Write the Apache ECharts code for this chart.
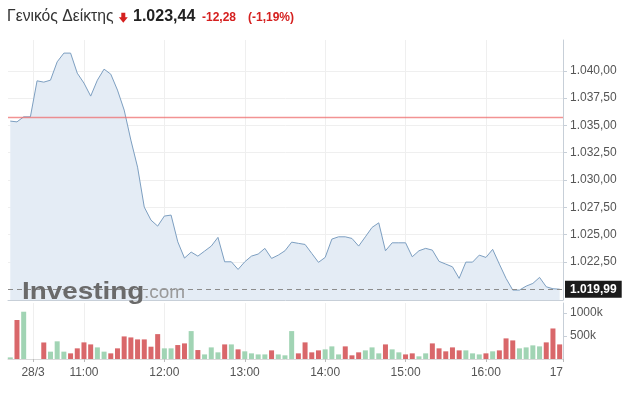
<!DOCTYPE html>
<html><head><meta charset="utf-8">
<script src="https://cdn.jsdelivr.net/npm/echarts@6/dist/echarts.min.js"></script>
<style>html,body{margin:0;padding:0;background:#fff}#c{width:624px;height:394px}</style>
</head><body><div id="c"></div>
<script>
const times = [
 '10:05','10:10','10:15','10:20','10:25','10:30','10:35','10:40','10:45','10:50','10:55',
 '11:00','11:05','11:10','11:15','11:20','11:25','11:30','11:35','11:40','11:45','11:50','11:55',
 '12:00','12:05','12:10','12:15','12:20','12:25','12:30','12:35','12:40','12:45','12:50','12:55',
 '13:00','13:05','13:10','13:15','13:20','13:25','13:30','13:35','13:40','13:45','13:50','13:55',
 '14:00','14:05','14:10','14:15','14:20','14:25','14:30','14:35','14:40','14:45','14:50','14:55',
 '15:00','15:05','15:10','15:15','15:20','15:25','15:30','15:35','15:40','15:45','15:50','15:55',
 '16:00','16:05','16:10','16:15','16:20','16:25','16:30','16:35','16:40','16:45','16:50','16:55'];
const prices = [
 1035.39,1035.32,1035.78,1035.78,1039.08,1038.96,1039.14,1040.82,1041.62,1041.62,1039.78,
 1038.87,1037.68,1039.14,1040.15,1039.69,1038.23,1036.40,1033.65,1031.17,1027.51,1026.32,1025.77,
 1026.69,1026.78,1024.33,1022.84,1023.39,1023.02,1023.48,1023.94,1024.74,1022.50,1022.50,1021.80,
 1022.50,1023.02,1023.21,1023.73,1022.81,1023.11,1023.51,1024.30,1024.19,1024.09,1023.27,1022.45,
 1022.90,1024.58,1024.79,1024.79,1024.64,1023.94,1024.79,1025.65,1026.07,1023.51,1024.24,1024.24,
 1024.24,1022.96,1023.51,1023.73,1023.57,1022.54,1022.29,1022.04,1020.98,1022.47,1022.47,1023.11,
 1022.90,1023.64,1022.29,1020.98,1019.91,1019.91,1020.27,1020.52,1021.07,1020.21,1020.03,1019.99];
const volumes = [
 35000,850000,1030000,0,0,360000,160000,385000,160000,123000,232000,
 362000,318000,253000,160000,123000,232000,492000,470000,427000,427000,268000,542000,
 232000,232000,304000,340000,608000,195000,100000,253000,145000,318000,318000,210000,
 167000,123000,100000,100000,188000,100000,80000,608000,123000,362000,145000,188000,
 210000,275000,100000,275000,80000,145000,188000,253000,123000,318000,210000,145000,
 100000,123000,58000,123000,340000,232000,167000,253000,188000,188000,123000,100000,
 123000,167000,188000,449000,405000,232000,253000,297000,275000,362000,665000,318000];
const directions = [
 'u','d','u','u','u','d','u','u','u','d','d',
 'd','d','u','u','d','d','d','d','d','d','d','d',
 'u','u','d','d','u','d','u','u','u','d','u','d',
 'u','u','u','u','d','u','u','u','d','d','d','d',
 'u','u','u','d','d','d','u','u','u','d','u','u',
 'd','d','u','u','d','d','d','d','d','u','u','u',
 'd','u','d','d','d','u','u','u','u','d','d','d'];
const xTickTimes = ['10:22','11:00','12:00','13:00','14:00','15:00','16:00'];
const xTickLabels = ['28/3','11:00','12:00','13:00','14:00','15:00','16:00'];
const xEndLabel = '17';
const priceTicks = [1022.5,1025,1027.5,1030,1032.5,1035,1037.5,1040];
const volumeTicks = [500000,1000000];
const prevClose = 1035.72;
const lastPrice = 1019.99;
const titleName = 'Γενικός Δείκτης';
const titleLast = '1.023,44';
const titleChange = '-12,28';
const titlePct = '(-1,19%)';

const toMin = s => { const p = s.split(':'); return (+p[0]) * 60 + (+p[1]); };
const gr = v => { const s = v.toFixed(2).split('.'); return s[0].replace(/\B(?=(\d{3})+(?!\d))/g, '.') + ',' + s[1]; };
const X_MIN = 603.3, X_MAX = 1017.5;
const xTickVals = xTickTimes.map(toMin).concat([X_MAX]);
const xLabelMap = {};
xTickTimes.forEach((t, i) => { xLabelMap[toMin(t)] = xTickLabels[i]; });
xLabelMap[X_MAX] = xEndLabel;

const RED = '#d9676a', GREEN = '#a1d4b4', AXC = '#c7cfd8', GRIDC = '#efefef', LBL = '#555';
const chart = echarts.init(document.getElementById('c'), null, {renderer: 'canvas'});
chart.setOption({
  animation: false,
  backgroundColor: '#fff',
  grid: [
    {left: 8, right: 61, top: 40, height: 260},
    {left: 8, right: 61, top: 303, height: 56}
  ],
  xAxis: [
    {type: 'value', gridIndex: 0, min: X_MIN, max: X_MAX,
     axisLine: {show: true, lineStyle: {color: AXC}},
     axisTick: {show: false, customValues: xTickVals},
     axisLabel: {show: false, customValues: xTickVals},
     splitLine: {show: true, lineStyle: {color: GRIDC}}},
    {type: 'value', gridIndex: 1, min: X_MIN, max: X_MAX,
     axisLine: {show: true, lineStyle: {color: '#d9d9d9'}},
     axisTick: {show: true, length: 3, customValues: xTickVals, lineStyle: {color: '#bbb'}},
     axisLabel: {customValues: xTickVals, color: LBL, fontSize: 12, fontFamily: 'Arial', margin: 8,
       alignMaxLabel: 'right', formatter: v => xLabelMap[v] !== undefined ? xLabelMap[v] : ''},
     splitLine: {show: true, lineStyle: {color: GRIDC}}}
  ],
  yAxis: [
    {type: 'value', gridIndex: 0, position: 'right', min: 1019.0, max: 1042.82,
     axisLine: {show: true, lineStyle: {color: AXC}},
     axisTick: {show: true, length: 4, customValues: priceTicks, lineStyle: {color: AXC}},
     axisLabel: {customValues: priceTicks, color: LBL, fontSize: 12, fontFamily: 'Arial', margin: 7,
       padding: [4, 0, 0, 0], formatter: v => gr(v)},
     splitLine: {show: true, lineStyle: {color: GRIDC}}},
    {type: 'value', gridIndex: 1, position: 'right', min: 0, max: 1220000,
     axisLine: {show: true, lineStyle: {color: AXC}},
     axisTick: {show: true, length: 4, customValues: volumeTicks, lineStyle: {color: AXC}},
     axisLabel: {customValues: volumeTicks, color: LBL, fontSize: 12, fontFamily: 'Arial', margin: 7,
       formatter: v => (v / 1000) + 'k'},
     splitLine: {show: false}}
  ],
  graphic: [
    {type: 'text', x: 7, y: 17, style: {text: titleName, font: '15.7px Arial', fill: '#333', verticalAlign: 'middle'}},
    {type: 'polygon', shape: {points: [[121.3,12.7],[125.3,12.7],[125.3,17.3],[127.8,17.3],[123.3,22.8],[118.8,17.3],[121.3,17.3]]}, style: {fill: '#d5201f'}},
    {type: 'text', x: 133, y: 17, style: {text: titleLast, font: 'bold 16px Arial', fill: '#222', verticalAlign: 'middle'}},
    {type: 'text', x: 202, y: 17.5, style: {text: titleChange, font: 'bold 12px Arial', fill: '#d5201f', verticalAlign: 'middle'}},
    {type: 'text', x: 248, y: 17.5, style: {text: titlePct, font: 'bold 12px Arial', fill: '#d5201f', verticalAlign: 'middle'}},
    {type: 'text', x: 22, y: 292, scaleX: 1.16, z: 100, style: {text: 'Investing', font: 'bold 24px Arial', fill: '#6a6a6a', verticalAlign: 'middle'}},
    {type: 'text', x: 144, y: 293, z: 100, style: {text: '.com', font: '19px Arial', fill: '#9a9a9a', verticalAlign: 'middle'}}
  ],
  series: [
    {type: 'line', xAxisIndex: 0, yAxisIndex: 0, symbol: 'none',
     data: times.map((t, i) => [toMin(t), prices[i]]),
     lineStyle: {color: '#7d9fc1', width: 1},
     areaStyle: {color: '#e4ecf5', opacity: 1, origin: 'start'},
     markLine: {silent: true, symbol: ['none', 'none'],
       lineStyle: {color: '#8c8c8c', type: [5, 4], width: 1},
       label: {show: true, position: 'end', formatter: gr(lastPrice), backgroundColor: '#1b1b1b', color: '#fff',
               fontWeight: 'bold', fontSize: 12, fontFamily: 'Arial', padding: [3, 5, 2, 5], distance: 2},
       data: [{yAxis: lastPrice}]}},
    {type: 'line', xAxisIndex: 0, yAxisIndex: 0, symbol: 'none', silent: true, z: 3,
     data: [[X_MIN, prevClose], [X_MAX, prevClose]],
     itemStyle: {color: '#ee6f6f'},
     lineStyle: {color: '#ee6f6f', width: 1.5, opacity: 0.75}},
    {type: 'bar', xAxisIndex: 1, yAxisIndex: 1, barWidth: 5,
     data: times.map((t, i) => ({value: [toMin(t), volumes[i]], itemStyle: {color: directions[i] === 'u' ? GREEN : RED}}))}
  ]
});
</script></body></html>
